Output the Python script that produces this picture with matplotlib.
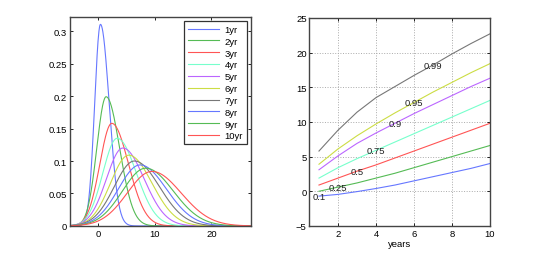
import numpy as np
import matplotlib
matplotlib.use("Agg")
import matplotlib.pyplot as plt

plt.rcParams['font.family'] = ['Liberation Sans', 'DejaVu Sans']
plt.rcParams['font.size'] = 6.8

# --- datos ---
anios = [1, 2, 3, 4, 5, 6, 7, 8, 9, 10]
etiquetas = ['1yr', '2yr', '3yr', '4yr', '5yr', '6yr', '7yr', '8yr', '9yr', '10yr']
# moda de cada densidad y anchos izquierdo / derecho (densidad asimetrica)
moda = [0.4, 1.4, 2.4, 3.35, 4.35, 5.4, 6.4, 7.4, 8.4, 9.5]
ancho_izq = [1.03, 1.64, 2.10, 2.52, 2.89, 3.22, 3.56, 3.84, 4.11, 4.35]
ancho_der = [1.54, 2.37, 2.95, 3.39, 3.76, 4.10, 4.42, 4.65, 4.86, 5.15]

# cuantiles por anio (panel derecho)
niveles = ['0.1', '0.25', '0.5', '0.75', '0.9', '0.95', '0.99']
q010 = [-0.7, -0.45, -0.05, 0.4, 0.9, 1.5, 2.1, 2.7, 3.3, 4.0]
q025 = [0.0, 0.6, 1.2, 1.9, 2.6, 3.4, 4.2, 5.0, 5.8, 6.6]
q050 = [0.9, 1.9, 2.9, 3.8, 4.8, 5.8, 6.8, 7.8, 8.8, 9.8]
q075 = [1.9, 3.4, 4.7, 5.9, 7.1, 8.3, 9.5, 10.7, 11.9, 13.1]
q090 = [3.1, 5.1, 6.9, 8.4, 9.8, 11.2, 12.5, 13.8, 15.1, 16.3]
q095 = [3.9, 6.1, 8.0, 9.7, 11.3, 12.8, 14.3, 15.7, 17.1, 18.4]
q099 = [5.8, 8.8, 11.4, 13.5, 15.1, 16.7, 18.2, 19.8, 21.3, 22.7]
cuantiles = [q010, q025, q050, q075, q090, q095, q099]

colores = ['#6677ff', '#55bb55', '#ff5555', '#77ffcc', '#bb66ff',
           '#ccdd44', '#777777']


def densidad(x, m, sl, sr):
    # normal partida: dos mitades gaussianas con distinto ancho
    h = np.sqrt(2 / np.pi) / (sl + sr)
    s = np.where(x < m, sl, sr)
    return h * np.exp(-0.5 * ((x - m) / s) ** 2)


fig = plt.figure(figsize=(5.42, 2.55), dpi=100)
ax1 = fig.add_axes([0.129, 0.110, 0.334, 0.820])
ax2 = fig.add_axes([0.571, 0.110, 0.333, 0.816])

x = np.linspace(-5, 27, 600)
for i in range(len(anios)):
    ax1.plot(x, densidad(x, moda[i], ancho_izq[i], ancho_der[i]),
             color=colores[i % 7], lw=0.8, label=etiquetas[i])
ax1.set_xlim(-5, 27)
ax1.set_ylim(0, 0.322)
ax1.set_xticks([0, 10, 20])
ax1.set_yticks([0, 0.05, 0.1, 0.15, 0.2, 0.25, 0.3])
ax1.set_yticklabels(['0', '0.05', '0.1', '0.15', '0.2', '0.25', '0.3'])
leg = ax1.legend(loc='upper right', fancybox=False, framealpha=1,
                 edgecolor='#333333', handlelength=3.3, labelspacing=0.3,
                 borderaxespad=0.45, handletextpad=0.6, fontsize=6.8)
leg.get_frame().set_linewidth(0.9)

for j, q in enumerate(cuantiles):
    ax2.plot(anios, q, color=colores[j], lw=0.8)
    ax2.text(anios[j], q[j], niveles[j], ha='center', va='center',
             fontsize=6.8, color='#222222')
ax2.set_xlim(0.5, 10)
ax2.set_ylim(-5, 25)
ax2.set_xticks([2, 4, 6, 8, 10])
ax2.set_yticks([-5, 0, 5, 10, 15, 20, 25])
ax2.set_yticklabels(['\u22125', '0', '5', '10', '15', '20', '25'])
ax2.set_xlabel('years', labelpad=1)
ax2.grid(True, ls=':', color='#aaaaaa', lw=0.7)

for ax in (ax1, ax2):
    ax.tick_params(direction='in', top=True, right=True, length=2.5,
                   width=0.6, pad=2, labelsize=6.8)
    for s in ax.spines.values():
        s.set_color('#444444')
        s.set_linewidth(1.0)

fig.savefig('out.png', dpi=100)
